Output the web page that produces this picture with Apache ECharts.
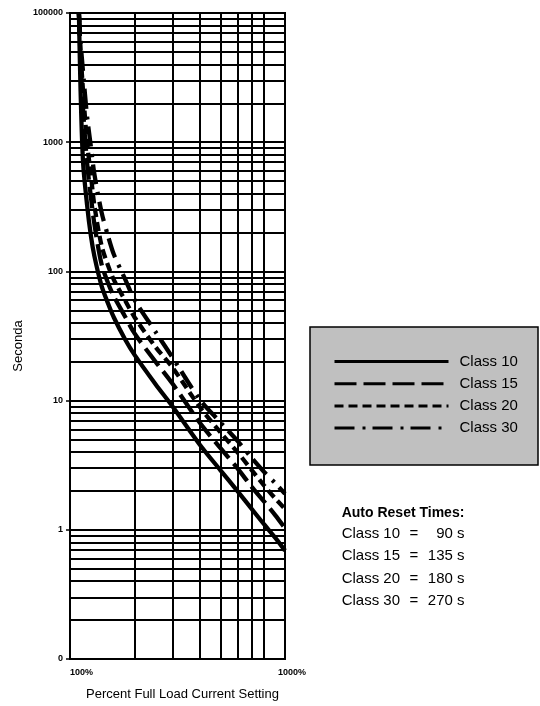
<!DOCTYPE html>
<html><head><meta charset="utf-8">
<script src="https://cdn.jsdelivr.net/npm/echarts@6/dist/echarts.min.js"></script>
<style>html,body{margin:0;padding:0;background:#fff;} #chart{width:540px;height:706px;}</style>
</head><body><div id="chart"></div>
<script>
const FONT = '"Liberation Sans", Arial, Helvetica, sans-serif';

// Multiples of full load current (1 = 100%, 10 = 1000%)
const loadMultiple = [1.10, 1.12, 1.15, 1.2, 1.25, 1.3, 1.4, 1.5, 1.6, 1.8, 2.0, 2.5, 3.0, 4.0, 5.0, 6.0, 7.0, 8.0, 9.0, 10.0];
// Trip times in seconds
const class10 = [10000, 2500, 700, 330, 190, 130, 78, 57, 44, 30, 22.5, 13.4, 9.0, 4.6, 2.9, 2.0, 1.45, 1.1, 0.87, 0.69];
const class15 = [10000, 4500, 1800, 700, 380, 230, 115, 82, 64, 45, 33, 20, 13.5, 6.8, 4.3, 3.0, 2.15, 1.65, 1.3, 1.03];
const class20 = [10000, 5000, 2500, 1000, 560, 320, 160, 112, 86, 60, 44, 26, 18, 9.0, 5.7, 4.0, 2.9, 2.2, 1.75, 1.45];
const class30 = [10000, 6000, 3500, 1600, 930, 560, 290, 190, 135, 88, 60, 34, 21.5, 10.3, 6.8, 4.9, 3.6, 2.8, 2.3, 1.9];
const seriesNames = ['Class 10', 'Class 15', 'Class 20', 'Class 30'];

// Tick labels as printed
const yTickValues = [0.1, 1, 10, 100, 1000, 10000];
const yTickLabels = ['0', '1', '10', '100', '1000', '100000'];
const xTickValues = [1, 10];
const xTickLabels = ['100%', '1000%'];

// Grid lines
const xGridValues = [2, 3, 4, 5, 6, 7, 8];
const yGridValues = [];
for (let k = -1; k <= 3; k++) for (let m = 2; m <= 9; m++) yGridValues.push(m * Math.pow(10, k));
const yDecades = [1, 10, 100, 1000];

// Auto reset times
const resetTitle = 'Auto Reset Times:';
const resetClasses = ['Class 10', 'Class 15', 'Class 20', 'Class 30'];
const resetTimes = ['90 s', '135 s', '180 s', '270 s'];

function matchTick(values, labels, v) {
  const i = values.findIndex(t => Math.abs(Math.log10(t) - Math.log10(v)) < 1e-6);
  return i >= 0 ? labels[i] : '';
}

const dashes = ['solid', [22, 7], [9, 5], [20, 8, 3, 7]];
const dataSets = [class10, class15, class20, class30];

const curveSeries = dataSets.map((arr, si) => ({
  type: 'line',
  name: seriesNames[si],
  data: loadMultiple.map((m, i) => [m, arr[i]]),
  symbol: 'none',
  smooth: 0.3,
  z: 3,
  itemStyle: { color: '#000' },
  lineStyle: { color: '#000', width: 4.3, type: dashes[si] }
}));

const gridSeries = {
  type: 'line',
  name: 'grid',
  data: [],
  silent: true,
  z: 1,
  markLine: {
    silent: true,
    animation: false,
    symbol: ['none', 'none'],
    label: { show: false },
    lineStyle: { color: '#000', width: 2, type: 'solid' },
    emphasis: { disabled: true },
    data: [
      ...yGridValues.map(v => ({ yAxis: v })),
      ...yDecades.map(v => ({ yAxis: v })),
      ...xGridValues.map(v => ({ xAxis: v }))
    ]
  }
};

const graphics = [
  { type: 'rect', shape: { x: 310, y: 327, width: 228, height: 138 }, style: { fill: '#c0c0c0', stroke: '#000', lineWidth: 1.5 }, z: 0 },
  { type: 'text', x: 341.7, y: 513, style: { text: resetTitle, font: 'bold 14px ' + FONT, fill: '#000', align: 'left', verticalAlign: 'middle' } }
];
resetClasses.forEach((c, i) => {
  const y = 534 + i * 22.2;
  graphics.push({ type: 'text', x: 341.7, y, style: { text: c, font: '15px ' + FONT, fill: '#000', align: 'left', verticalAlign: 'middle' } });
  graphics.push({ type: 'text', x: 414, y, style: { text: '=', font: '15px ' + FONT, fill: '#000', align: 'center', verticalAlign: 'middle' } });
  graphics.push({ type: 'text', x: 464.5, y, style: { text: resetTimes[i], font: '15px ' + FONT, fill: '#000', align: 'right', verticalAlign: 'middle' } });
});

const chart = echarts.init(document.getElementById('chart'), null, { renderer: 'canvas' });
chart.setOption({
  animation: false,
  backgroundColor: '#fff',
  grid: { left: 70, right: 255, top: 13, bottom: 46, show: true, borderColor: '#000', borderWidth: 2, backgroundColor: 'transparent' },
  xAxis: {
    type: 'log', logBase: 10, min: 1, max: 10,
    name: 'Percent Full Load Current Setting', nameLocation: 'middle', nameGap: 29,
    nameTextStyle: { fontFamily: FONT, fontSize: 13, color: '#000', padding: [0, 0, 0, 10] },
    axisLine: { show: true, lineStyle: { color: '#000', width: 2 } },
    axisTick: { show: false },
    splitLine: { show: false },
    axisLabel: {
      margin: 9, color: '#000',
      formatter: v => {
        const t = matchTick(xTickValues, xTickLabels, v);
        return t === xTickLabels[0] ? '{a|' + t + '}' : '{b|' + t + '}';
      },
      rich: {
        a: { fontFamily: FONT, fontWeight: 'bold', fontSize: 9, color: '#000', padding: [0, 0, 0, 23] },
        b: { fontFamily: FONT, fontWeight: 'bold', fontSize: 9, color: '#000', padding: [0, 0, 0, 14] }
      }
    }
  },
  yAxis: {
    type: 'log', logBase: 10, min: 0.1, max: 10000, splitNumber: 5,
    name: 'Seconda', nameLocation: 'middle', nameGap: 45,
    nameTextStyle: { fontFamily: FONT, fontSize: 13, color: '#000', padding: [0, 20, 0, 0] },
    axisLine: { show: true, lineStyle: { color: '#000', width: 2 } },
    axisTick: { show: true, length: 4, lineStyle: { color: '#000', width: 1.5 } },
    splitLine: { show: false },
    axisLabel: {
      margin: 7, color: '#000', fontFamily: FONT, fontWeight: 'bold', fontSize: 9,
      formatter: v => matchTick(yTickValues, yTickLabels, v)
    }
  },
  legend: {
    data: seriesNames,
    orient: 'vertical', left: 333, top: 354, padding: 0,
    itemWidth: 114, itemHeight: 16, itemGap: 7.2,
    selectedMode: false,
    itemStyle: { color: 'rgba(0,0,0,0)', borderColor: 'rgba(0,0,0,0)', borderWidth: 0, opacity: 0 },
    lineStyle: { width: 3 },
    textStyle: { fontFamily: FONT, fontSize: 15, color: '#000', padding: [0, 0, 0, 6] }
  },
  graphic: graphics,
  series: [gridSeries, ...curveSeries]
});
</script>
</body></html>
